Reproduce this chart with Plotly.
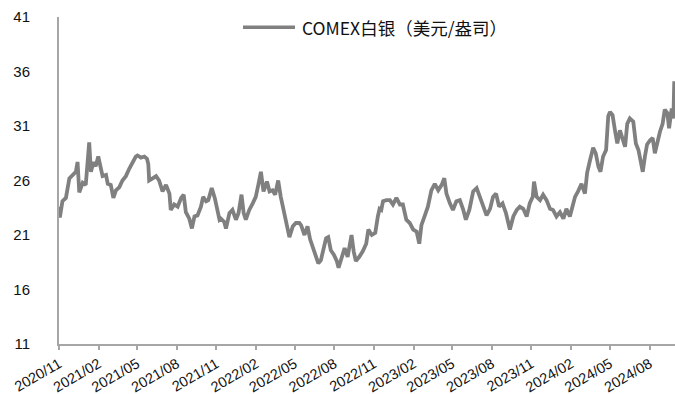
import plotly.graph_objects as go

# COMEX silver price, USD per ounce
dates = [
    "2020-11-01", "2020-11-03", "2020-11-09", "2020-11-17", "2020-11-25", "2020-12-02",
    "2020-12-10", "2020-12-14", "2020-12-18", "2020-12-26", "2021-01-02", "2021-01-10",
    "2021-01-14", "2021-01-20", "2021-01-25", "2021-01-31", "2021-02-06", "2021-02-10",
    "2021-02-18", "2021-02-22", "2021-03-01", "2021-03-07", "2021-03-13", "2021-03-21",
    "2021-03-28", "2021-04-05", "2021-04-13", "2021-04-20", "2021-04-28", "2021-05-02",
    "2021-05-10", "2021-05-18", "2021-05-24", "2021-05-27", "2021-05-29", "2021-06-06",
    "2021-06-14", "2021-06-21", "2021-06-29", "2021-07-07", "2021-07-15", "2021-07-18",
    "2021-07-26", "2021-08-03", "2021-08-11", "2021-08-17", "2021-08-22", "2021-08-30",
    "2021-09-05", "2021-09-11", "2021-09-18", "2021-09-26", "2021-10-01", "2021-10-08",
    "2021-10-13", "2021-10-21", "2021-10-28", "2021-11-08", "2021-11-11", "2021-11-19",
    "2021-11-23", "2021-12-01", "2021-12-08", "2021-12-16", "2021-12-22", "2021-12-29",
    "2022-01-03", "2022-01-08", "2022-01-16", "2022-01-24", "2022-01-31", "2022-02-06",
    "2022-02-12", "2022-02-18", "2022-02-26", "2022-03-04", "2022-03-11", "2022-03-17",
    "2022-03-24", "2022-03-30", "2022-04-06", "2022-04-11", "2022-04-19", "2022-04-27",
    "2022-05-04", "2022-05-12", "2022-05-16", "2022-05-24", "2022-05-31", "2022-06-06",
    "2022-06-12", "2022-06-20", "2022-06-25", "2022-07-01", "2022-07-08", "2022-07-13",
    "2022-07-18", "2022-07-24", "2022-07-31", "2022-08-07", "2022-08-11", "2022-08-17",
    "2022-08-25", "2022-09-01", "2022-09-10", "2022-09-15", "2022-09-20", "2022-09-28",
    "2022-10-06", "2022-10-14", "2022-10-19", "2022-10-27", "2022-11-04", "2022-11-10",
    "2022-11-14", "2022-11-18", "2022-11-22", "2022-11-30", "2022-12-08", "2022-12-15",
    "2022-12-23", "2022-12-31", "2023-01-07", "2023-01-15", "2023-01-23", "2023-01-31",
    "2023-02-08", "2023-02-14", "2023-02-19", "2023-02-27", "2023-03-06", "2023-03-14",
    "2023-03-22", "2023-03-30", "2023-04-07", "2023-04-13", "2023-04-18", "2023-04-26",
    "2023-05-03", "2023-05-11", "2023-05-19", "2023-05-27", "2023-06-02", "2023-06-10",
    "2023-06-19", "2023-06-27", "2023-07-04", "2023-07-12", "2023-07-20", "2023-07-28",
    "2023-08-04", "2023-08-11", "2023-08-18", "2023-08-26", "2023-09-03", "2023-09-12",
    "2023-09-20", "2023-09-28", "2023-10-05", "2023-10-13", "2023-10-21", "2023-10-28",
    "2023-11-04", "2023-11-07", "2023-11-13", "2023-11-21", "2023-11-28", "2023-12-06",
    "2023-12-14", "2023-12-21", "2023-12-29", "2024-01-06", "2024-01-14", "2024-01-21",
    "2024-01-29", "2024-02-04", "2024-02-10", "2024-02-17", "2024-02-25", "2024-03-04",
    "2024-03-09", "2024-03-16", "2024-03-23", "2024-03-29", "2024-04-04", "2024-04-09",
    "2024-04-15", "2024-04-22", "2024-04-27", "2024-05-01", "2024-05-07", "2024-05-13",
    "2024-05-18", "2024-05-24", "2024-05-30", "2024-06-05", "2024-06-10", "2024-06-16",
    "2024-06-24", "2024-06-30", "2024-07-06", "2024-07-11", "2024-07-16", "2024-07-21",
    "2024-07-26", "2024-08-02", "2024-08-08", "2024-08-13", "2024-08-19", "2024-08-25",
    "2024-08-31", "2024-09-05", "2024-09-11", "2024-09-15", "2024-09-21", "2024-09-25",
    "2024-09-27",
]

silver = [
    23.6, 22.6, 24.1, 24.4, 26.2, 26.5,
    26.8, 27.7, 24.9, 25.8, 25.6, 29.5,
    26.8, 27.7, 27.3, 28.2, 27.3, 26.4,
    26.5, 25.7, 25.6, 24.4, 25.1, 25.4,
    26.0, 26.4, 27.1, 27.6, 28.2, 28.3,
    28.1, 28.2, 28.0, 27.5, 26.0, 26.2,
    26.4, 26.0, 25.0, 25.6, 24.8, 23.3,
    23.8, 23.6, 24.4, 24.7, 23.1, 22.5,
    21.6, 22.7, 22.8, 23.6, 24.5, 24.1,
    24.2, 25.3, 24.4, 22.4, 22.5, 22.2,
    21.6, 23.0, 23.3, 22.4, 23.0, 24.7,
    23.0, 22.4, 23.3, 23.9, 24.5, 25.6,
    26.8, 25.0, 25.9, 25.0, 25.1, 24.7,
    26.0, 24.5, 23.3, 22.4, 20.8, 21.8,
    22.1, 22.1, 21.9, 21.0, 21.8, 20.6,
    19.9, 19.2, 18.4, 18.7, 19.9, 20.7,
    20.8, 19.6, 19.2, 18.6, 18.0, 18.7,
    19.8, 19.0, 21.0, 19.5, 18.6, 19.0,
    19.5, 20.2, 21.5, 21.0, 21.2, 22.7,
    23.4, 23.3, 24.1, 24.2, 24.2, 23.8,
    24.4, 23.8, 23.8, 22.4, 22.1, 21.5,
    21.3, 20.2, 21.9, 22.8, 23.6, 25.1,
    25.7, 25.1, 25.6, 26.2, 24.8, 23.9,
    23.3, 24.1, 24.2, 23.3, 22.4, 23.3,
    25.0, 25.3, 24.5, 23.6, 22.8, 23.4,
    24.5, 24.8, 23.6, 23.9, 23.0, 21.5,
    22.7, 23.3, 23.6, 23.4, 22.7, 23.9,
    24.5, 25.9, 24.5, 24.2, 24.7, 24.2,
    23.4, 23.3, 22.7, 23.1, 22.5, 23.4,
    22.7, 23.6, 24.5, 25.0, 25.7, 24.8,
    26.7, 27.9, 29.0, 28.5, 27.3, 26.8,
    28.2, 28.8, 31.9, 32.3, 32.0, 30.5,
    29.4, 30.6, 29.9, 29.1, 31.2, 31.7,
    31.4, 29.4, 28.8, 27.9, 26.8, 28.2,
    29.3, 29.7, 29.9, 28.5, 29.6, 30.5,
    31.2, 32.5, 32.2, 30.8, 32.6, 31.7,
    35.1,
]

series_name = "COMEX白银（美元/盎司）"
y_ticks = [11, 16, 21, 26, 31, 36, 41]

LINE_COLOR = "#808080"
AXIS_COLOR = "#a6a6a6"
TEXT_COLOR = "#111111"

fig = go.Figure()
fig.add_trace(go.Scatter(
    x=dates, y=silver, mode="lines", name=series_name,
    line=dict(color=LINE_COLOR, width=3.8),
    showlegend=False,
))

# legend key drawn as a short line plus label at the top of the plot
fig.add_shape(type="line", xref="paper", yref="paper",
              x0=0.2987, x1=0.3831, y0=0.969, y1=0.969,
              line=dict(color=LINE_COLOR, width=3.5))
fig.add_annotation(text=series_name, xref="paper", yref="paper",
                   x=0.391, y=0.969, xanchor="left", yanchor="middle",
                   showarrow=False,
                   font=dict(family="Noto Sans CJK SC", size=17.5, color=TEXT_COLOR))

fig.update_layout(
    width=675, height=394,
    margin=dict(l=59, r=0, t=17, b=50, autoexpand=False),
    paper_bgcolor="white", plot_bgcolor="white",
    font=dict(family="Liberation Sans, Arial, sans-serif", color=TEXT_COLOR),
)
fig.update_xaxes(
    type="date",
    range=["2020-11-01", "2024-09-28 17:00"],
    tick0="2020-11-01", dtick="M3", tickformat="%Y/%m",
    tickangle=-30,
    tickfont=dict(family="Liberation Sans", size=14.5, color=TEXT_COLOR),
    showline=True, linecolor=AXIS_COLOR, linewidth=2,
    ticks="outside", ticklen=4, tickwidth=1.5, tickcolor=AXIS_COLOR,
    showgrid=False, zeroline=False, automargin=False,
)
fig.update_yaxes(
    range=[11, 41],
    tickvals=y_ticks,
    tickfont=dict(family="Liberation Sans", size=15, color=TEXT_COLOR),
    showline=True, linecolor=AXIS_COLOR, linewidth=2,
    ticks="", ticklabelstandoff=24,
    showgrid=False, zeroline=False, automargin=False,
)

fig.write_html("out.html")
